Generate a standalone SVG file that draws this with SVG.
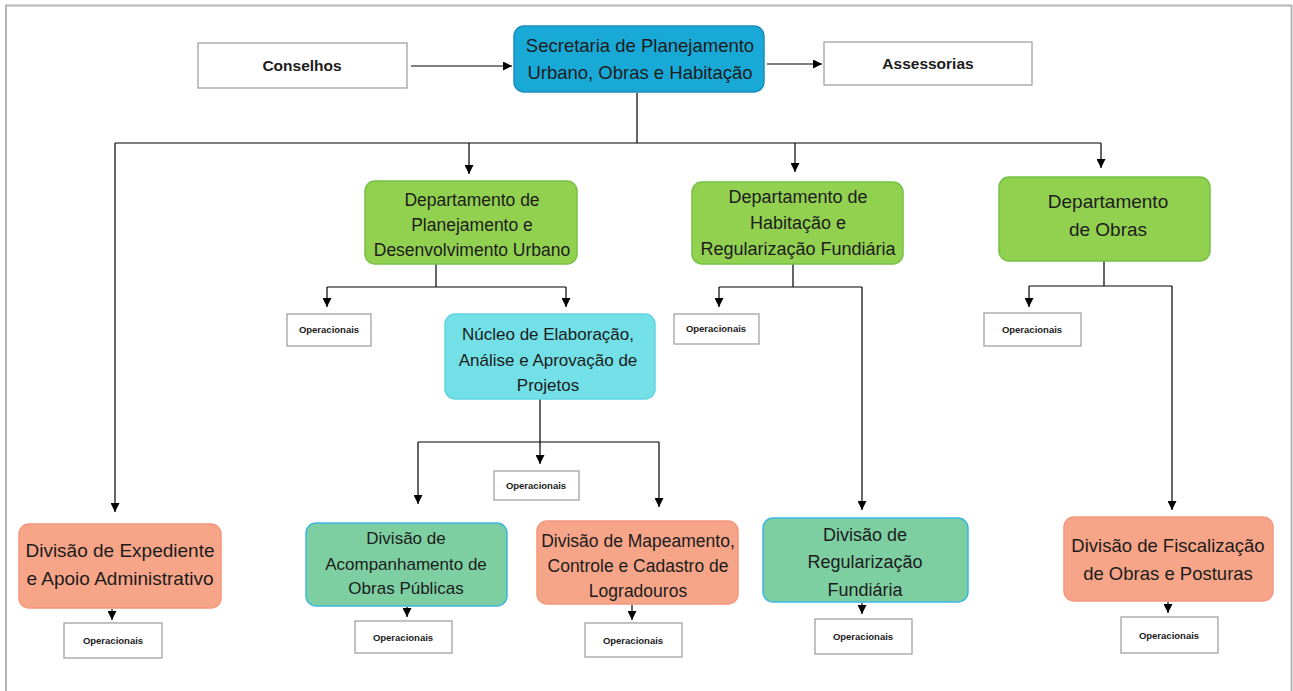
<svg xmlns="http://www.w3.org/2000/svg" width="1293" height="691" viewBox="0 0 1293 691">
  <defs>
    <marker id="arrow" markerUnits="userSpaceOnUse" markerWidth="9" markerHeight="9" viewBox="0 0 9 9" refX="9" refY="4.5" orient="auto">
      <path d="M0,0 L9,4.5 L0,9 Z" fill="#000"/>
    </marker>
    <style>
      text { font-family: "Liberation Sans", Arial, sans-serif; fill: #1c1c1c; text-anchor: middle; }
      .plain { fill: #fff; stroke: #9a9a9a; stroke-width: 1.2; }
      .ops { font-size: 9.5px; font-weight: bold; }
      .big-label { font-size: 15.5px; font-weight: bold; }
      .sec { fill: #19A9D6; stroke: #1C8DBA; stroke-width: 1.5; }
      .dept { fill: #92D050; stroke: #76C046; stroke-width: 1.5; }
      .nucleo { fill: #72E0E6; stroke: #62D3E2; stroke-width: 1.5; }
      .mint { fill: #7DCFA2; stroke: #3EB6E2; stroke-width: 1.5; }
      .salmon { fill: #F7A588; stroke: #F4977C; stroke-width: 1.5; }
      .t17 { font-size: 17px; }
      .t175 { font-size: 17.5px; }
      .t18 { font-size: 18px; }
      .t185 { font-size: 18.5px; }
      .t19 { font-size: 19px; }
      .link { fill: none; stroke: #000; stroke-width: 1.2; }
      .arr { marker-end: url(#arrow); }
    </style>
  </defs>

  <rect width="1293" height="691" fill="#fff"/>
  <!-- page frame -->
  <path d="M6,691 V5.5 H1291.5 V691" fill="none" stroke="#b5b5b5" stroke-width="2"/>

  <!-- connectors -->
  <g id="connectors">
    <line class="link arr" x1="411" y1="66" x2="512" y2="66"/>
    <line class="link arr" x1="767" y1="64" x2="822" y2="64"/>
    <path class="link" d="M637,93 V143 M115,143 H1101"/>
    <line class="link arr" x1="115" y1="143" x2="115" y2="512"/>
    <line class="link arr" x1="469" y1="143" x2="469" y2="174"/>
    <line class="link arr" x1="795" y1="143" x2="795" y2="172"/>
    <line class="link arr" x1="1101" y1="143" x2="1101" y2="168"/>

    <!-- Planejamento branch -->
    <path class="link" d="M436,264 V287 M327,287 H566"/>
    <line class="link arr" x1="327" y1="287" x2="327" y2="307"/>
    <line class="link arr" x1="566" y1="287" x2="566" y2="307"/>

    <!-- Núcleo branch -->
    <path class="link" d="M418,442 H659"/>
    <line class="link arr" x1="540" y1="399" x2="540" y2="464"/>
    <line class="link arr" x1="418" y1="442" x2="418" y2="504"/>
    <line class="link arr" x1="659" y1="442" x2="659" y2="507"/>

    <!-- Habitação branch -->
    <path class="link" d="M793,264 V287 M719,287 H862"/>
    <line class="link arr" x1="719" y1="287" x2="719" y2="307"/>
    <line class="link arr" x1="862" y1="287" x2="862" y2="510"/>

    <!-- Obras branch -->
    <path class="link" d="M1104,261 V286 M1029,286 H1172"/>
    <line class="link arr" x1="1029" y1="286" x2="1029" y2="307"/>
    <line class="link arr" x1="1172" y1="286" x2="1172" y2="510"/>

    <!-- division to operacionais -->
    <line class="link arr" x1="112" y1="609" x2="112" y2="620"/>
    <line class="link arr" x1="407" y1="607" x2="407" y2="617"/>
    <line class="link arr" x1="632" y1="605" x2="632" y2="620"/>
    <line class="link arr" x1="862" y1="603" x2="862" y2="614"/>
    <line class="link arr" x1="1168" y1="602" x2="1168" y2="613"/>
  </g>

  <!-- nodes -->
  <g id="conselhos">
    <rect class="plain" x="198" y="43" width="209" height="45"/>
    <text class="big-label" x="302" y="71">Conselhos</text>
  </g>
  <g id="secretaria">
    <rect class="sec" x="514" y="26" width="250" height="66" rx="10"/>
    <text class="t185" x="640" y="52">Secretaria de Planejamento</text>
    <text class="t185" x="640" y="79">Urbano, Obras e Habitação</text>
  </g>
  <g id="assessorias">
    <rect class="plain" x="824" y="42" width="208" height="43"/>
    <text class="big-label" x="928" y="69">Assessorias</text>
  </g>

  <g id="dept-planejamento">
    <rect class="dept" x="365" y="181" width="212" height="83" rx="10"/>
    <text class="t175" x="472" y="206">Departamento de</text>
    <text class="t175" x="472" y="231">Planejamento e</text>
    <text class="t175" x="472" y="256">Desenvolvimento Urbano</text>
  </g>
  <g id="dept-habitacao">
    <rect class="dept" x="692" y="182" width="211" height="82" rx="10"/>
    <text class="t18" x="798" y="203">Departamento de</text>
    <text class="t18" x="798" y="229">Habitação e</text>
    <text class="t18" x="798" y="255">Regularização Fundiária</text>
  </g>
  <g id="dept-obras">
    <rect class="dept" x="999" y="177" width="211" height="84" rx="10"/>
    <text class="t19" x="1108" y="208">Departamento</text>
    <text class="t19" x="1108" y="236">de Obras</text>
  </g>

  <g id="ops-planejamento">
    <rect class="plain" x="287" y="314" width="84" height="32"/>
    <text class="ops" x="329" y="333">Operacionais</text>
  </g>
  <g id="nucleo">
    <rect class="nucleo" x="445" y="314" width="210" height="85" rx="10"/>
    <text class="t17" x="548" y="340">Núcleo de Elaboração,</text>
    <text class="t17" x="548" y="366">Análise e Aprovação de</text>
    <text class="t17" x="548" y="391">Projetos</text>
  </g>
  <g id="ops-habitacao">
    <rect class="plain" x="674" y="314" width="85" height="30"/>
    <text class="ops" x="716" y="332">Operacionais</text>
  </g>
  <g id="ops-obras">
    <rect class="plain" x="984" y="313" width="97" height="33"/>
    <text class="ops" x="1032" y="333">Operacionais</text>
  </g>
  <g id="ops-nucleo">
    <rect class="plain" x="494" y="471" width="85" height="29"/>
    <text class="ops" x="536" y="489">Operacionais</text>
  </g>

  <g id="div-expediente">
    <rect class="salmon" x="19" y="524" width="202" height="84" rx="10"/>
    <text class="t19" x="120" y="557">Divisão de Expediente</text>
    <text class="t19" x="120" y="585">e Apoio Administrativo</text>
  </g>
  <g id="div-acompanhamento">
    <rect class="mint" x="306" y="523" width="201" height="83" rx="10"/>
    <text class="t17" x="406" y="544">Divisão de</text>
    <text class="t17" x="406" y="570">Acompanhamento de</text>
    <text class="t17" x="406" y="594">Obras Públicas</text>
  </g>
  <g id="div-mapeamento">
    <rect class="salmon" x="537" y="521" width="201" height="83" rx="10"/>
    <text class="t175" x="638" y="547">Divisão de Mapeamento,</text>
    <text class="t175" x="638" y="572">Controle e Cadastro de</text>
    <text class="t175" x="638" y="597">Logradouros</text>
  </g>
  <g id="div-regularizacao">
    <rect class="mint" x="763" y="518" width="205" height="84" rx="10"/>
    <text class="t18" x="865" y="541">Divisão de</text>
    <text class="t18" x="865" y="568">Regularização</text>
    <text class="t18" x="865" y="596">Fundiária</text>
  </g>
  <g id="div-fiscalizacao">
    <rect class="salmon" x="1064" y="517" width="209" height="84" rx="10"/>
    <text class="t185" x="1168" y="552">Divisão de Fiscalização</text>
    <text class="t185" x="1168" y="580">de Obras e Posturas</text>
  </g>

  <g id="ops-expediente">
    <rect class="plain" x="64" y="623" width="98" height="35"/>
    <text class="ops" x="113" y="644">Operacionais</text>
  </g>
  <g id="ops-acompanhamento">
    <rect class="plain" x="355" y="621" width="97" height="32"/>
    <text class="ops" x="403" y="641">Operacionais</text>
  </g>
  <g id="ops-mapeamento">
    <rect class="plain" x="585" y="623" width="97" height="34"/>
    <text class="ops" x="633" y="644">Operacionais</text>
  </g>
  <g id="ops-regularizacao">
    <rect class="plain" x="815" y="619" width="97" height="35"/>
    <text class="ops" x="863" y="640">Operacionais</text>
  </g>
  <g id="ops-fiscalizacao">
    <rect class="plain" x="1121" y="617" width="97" height="36"/>
    <text class="ops" x="1169" y="639">Operacionais</text>
  </g>
</svg>
